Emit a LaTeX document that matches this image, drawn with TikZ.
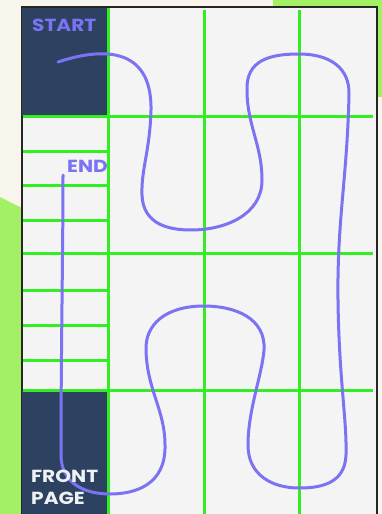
\documentclass[tikz,border=0pt]{standalone}
\usepackage{fontspec}
\newfontfamily\boardfont{Poppins}[FakeStretch=1.15]
\usepackage{tikz}
\usetikzlibrary{positioning}

\definecolor{cream}{HTML}{F8F6EC}
\definecolor{leaf}{HTML}{A3F065}
\definecolor{sheet}{HTML}{F4F4F4}
\definecolor{navy}{HTML}{2C4260}
\definecolor{grid}{HTML}{33EE22}
\definecolor{trail}{HTML}{7B73F2}
\definecolor{chalk}{HTML}{EEF2F6}

\begin{document}
\begin{tikzpicture}[x=1pt, y=-1pt,
    gridline/.style={grid, line width=3pt},
    label/.style={font=\boardfont\bfseries\fontsize{17.5}{17.5}\selectfont, inner sep=0pt, anchor=base west}]

    % background
    \fill[cream] (0,0) rectangle (382,514);
    \useasboundingbox (0,0) rectangle (382,514);
    \fill[leaf] (0,197) -- (30,212) -- (30,514) -- (0,514) -- cycle;
    \fill[leaf] (273,0) rectangle (382,97);

    % the sheet
    \coordinate (NW) at (22,7);
    \coordinate (NE) at (377,7);
    \coordinate (SW) at (22,514);
    \coordinate (SE) at (377,514);
    \fill[sheet] (NW) rectangle (SE);
    \draw[line width=2.5pt, black!85] (SW) -- (NW) -- (NE) -- (SE);

    \fill[navy] (22,8) rectangle (108,116);
    \fill[navy] (22,390) rectangle (108,514);

    % grid
    \draw[gridline] (108,8) -- (108,514);
    \foreach \x in {204,299}
        \draw[gridline] (\x,10) -- (\x,514);
    \foreach \y in {116,253,390}
        \draw[gridline] (23,\y) -- (373,\y);
    \foreach \y in {151,185,220,290,325,360}
        \draw[gridline] (23,\y) -- (108,\y);

    % the trail
    \coordinate (start) at (58,62);
    \coordinate (finish) at (63,175);
    \draw[trail, line width=3pt, line cap=round]
        (start) .. controls (100,48) and (152,45) .. (151,110)
        .. controls (150,150) and (141,170) .. (142,195)
        .. controls (143,225) and (170,230) .. (191,230)
        .. controls (225,230) and (262,215) .. (262,180)
        .. controls (262,145) and (247,125) .. (247,90)
        .. controls (246,60) and (270,54) .. (299,54)
        .. controls (330,54) and (350,68) .. (349,95)
        .. controls (347,180) and (337,220) .. (338,300)
        .. controls (339,380) and (347,420) .. (346,455)
        .. controls (345,485) and (318,488) .. (299,488)
        .. controls (272,488) and (248,475) .. (248,445)
        .. controls (248,410) and (262,375) .. (264,350)
        .. controls (266,318) and (235,306) .. (204,306)
        .. controls (165,306) and (145,325) .. (146,350)
        .. controls (147,390) and (165,410) .. (165,445)
        .. controls (166,485) and (135,494) .. (110,494)
        .. controls (80,494) and (61,480) .. (61,455)
        .. controls (61,350) and (63,250) .. (finish);

    % texts
    \node[label, text=trail] (startlabel) at (32,31) {START};
    \node[label, text=trail] (endlabel) at (67,172) {END};
    \node[label, text=chalk] (front) at (31,482) {FRONT};
    \node[label, text=chalk] (page) at (31,504) {PAGE};
\end{tikzpicture}
\end{document}
